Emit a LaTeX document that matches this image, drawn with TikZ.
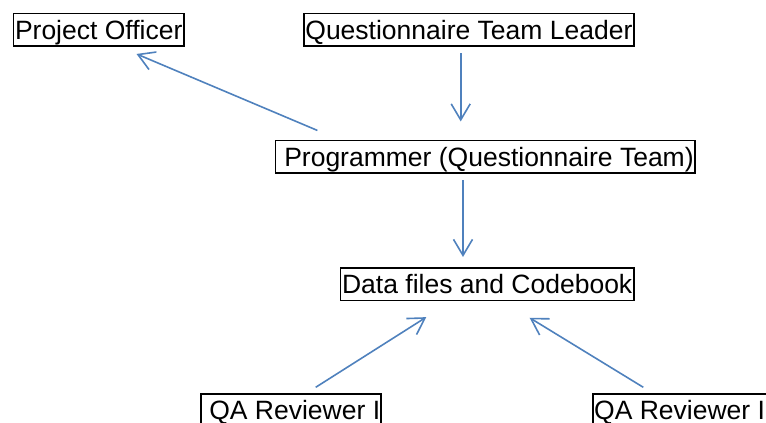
\documentclass[tikz,border=0pt]{standalone}
\usepackage{fontspec}
\setmainfont{Liberation Sans}
\usetikzlibrary{arrows.meta,positioning}

\begin{document}
\begin{tikzpicture}[
    x=1pt, y=1pt,
    font=\fontsize{26.5}{30}\selectfont,
    role/.style={
        draw,
        line width=1.6pt,
        inner xsep=1.5pt,
        inner ysep=1pt,
        outer sep=0pt,
        text height=25pt,
        text depth=5.5pt
    },
    flow/.style={
        draw=flowblue,
        line width=1.6pt,
        -{Straight Barb[length=16pt,width=19pt,line width=1.6pt]}
    }
]

\definecolor{flowblue}{RGB}{79,129,189}

\useasboundingbox (0,0) rectangle (766,423);
\clip (0,0) rectangle (766,423);

\node[role] (officer) at (98.7,393.3) {Project Officer};
\node[role] (leader) at (468.9,393.3) {Questionnaire Team Leader};
\node[role] (programmer) at (485.3,266.3) {~Programmer (Questionnaire Team)};
\node[role] (datafiles) at (487.2,138.8) {Data files and Codebook};
\node[role, anchor=north west, inner xsep=1pt] (reviewerA) at (201,29) {~QA Reviewer I};
\node[role, anchor=north west] (reviewerB) at (592.7,29) {QA Reviewer I};

\draw[flow] ([xshift=42pt,yshift=10pt]programmer.north west) -- ([xshift=123pt,yshift=-8pt]officer.south west);
\draw[flow] ([xshift=-8.2pt,yshift=-7.3pt]leader.south) -- ([xshift=-24.6pt,yshift=19pt]programmer.north);
\draw[flow] ([xshift=-22.3pt,yshift=-7.3pt]programmer.south) -- ([xshift=-24.2pt,yshift=11pt]datafiles.north);
\draw[flow] ([xshift=114.7pt,yshift=6.7pt]reviewerA.north west) -- ([xshift=85.7pt,yshift=-16.7pt]datafiles.south west);
\draw[flow] ([xshift=50.6pt,yshift=6.7pt]reviewerB.north west) -- ([xshift=189pt,yshift=-17.3pt]datafiles.south west);

\end{tikzpicture}
\end{document}
